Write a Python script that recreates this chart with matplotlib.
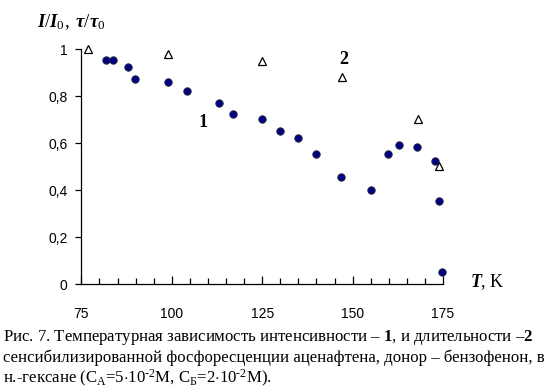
import numpy as np
import matplotlib
matplotlib.use("Agg")
import matplotlib.pyplot as plt
from matplotlib.ticker import MultipleLocator, FuncFormatter

plt.rcParams['font.family'] = ['Liberation Sans', 'DejaVu Sans']
plt.rcParams['mathtext.fontset'] = 'custom'
plt.rcParams['mathtext.rm'] = 'Liberation Serif'
plt.rcParams['mathtext.it'] = 'Liberation Serif:bold:italic'
plt.rcParams['mathtext.bf'] = 'Liberation Serif:bold'

# curve 1: intensity
T1 = [81.8, 83.8, 87.8, 89.9, 98.9, 104.1, 113.0, 116.9, 124.9, 129.8,
      134.8, 140.0, 146.9, 155.0, 159.9, 162.8, 167.9, 172.7, 173.8, 174.8]
I1 = [0.955, 0.955, 0.923, 0.875, 0.862, 0.823, 0.773, 0.725, 0.703, 0.654,
      0.624, 0.553, 0.455, 0.401, 0.553, 0.591, 0.584, 0.526, 0.353, 0.051]
# curve 2: lifetime
T2 = [76.8, 98.9, 125.0, 147.0, 168.0, 174.0]
t2 = [1.0, 0.98, 0.952, 0.882, 0.702, 0.503]

fig = plt.figure(figsize=(5.5, 3.92), dpi=100)
ax = fig.add_axes([0.148, 0.2747, 0.6575, 0.5995])

ax.plot(T1, I1, 'o', ms=5.3, mfc='#000080', mec='#222244', mew=0.7, clip_on=False, zorder=3)
ax.plot(T2, t2, '^', ms=5.2, mfc='white', mec='black', mew=0.9, clip_on=False, zorder=4)

ax.set_xlim(75, 175)
ax.set_ylim(0, 1)
ax.spines['top'].set_visible(False)
ax.spines['right'].set_visible(False)
for s in ('left', 'bottom'):
    ax.spines[s].set_linewidth(0.9)

ax.xaxis.set_major_locator(MultipleLocator(25))
ax.xaxis.set_minor_locator(MultipleLocator(5))
ax.yaxis.set_major_locator(MultipleLocator(0.2))
ax.yaxis.set_major_formatter(FuncFormatter(lambda v, p: ('%g' % round(v, 1)).replace('.', ',')))
ax.tick_params(axis='x', which='major', direction='in', length=6, width=0.9, pad=16, labelsize=10)
ax.tick_params(axis='x', which='minor', direction='in', length=4, width=0.9)
ax.tick_params(axis='y', which='major', direction='out', length=4, width=0.9, pad=6, labelsize=10)

ax.text(0.068, 0.944, r'$I/I_{\mathit{0}},\;\tau/\tau_{\mathit{0}}$', transform=fig.transFigure,
        fontsize=13.5, va='center', ha='left')
ax.text(0.855, 0.281, r'$T$, K', transform=fig.transFigure, fontsize=13,
        family='Liberation Serif', va='center', ha='left')
ax.text(108.5, 0.69, '1', fontsize=13, family='Liberation Serif', fontweight='bold',
        ha='center', va='center')
ax.text(147.5, 0.955, '2', fontsize=13, family='Liberation Serif', fontweight='bold',
        ha='center', va='center')

cap = [r'Рис. 7. Температурная зависимость интенсивности – $\mathbf{1}$, и длительности –$\mathbf{2}$',
       'сенсибилизированной фосфоресценции аценафтена, донор – бензофенон, в',
       r'н.-гексане (С$_{\mathrm{А}}$=5$\cdot$10$^{\mathrm{‐2}}$М, С$_{\mathrm{Б}}$=2$\cdot$10$^{\mathrm{‐2}}$М).']
for i, line in enumerate(cap):
    fig.text(0.005, 1 - (337.5 + 20.5 * i) / 392, line, family='Liberation Serif',
             fontsize=12.1, va='center', ha='left')

fig.savefig('out.png', dpi=100)
